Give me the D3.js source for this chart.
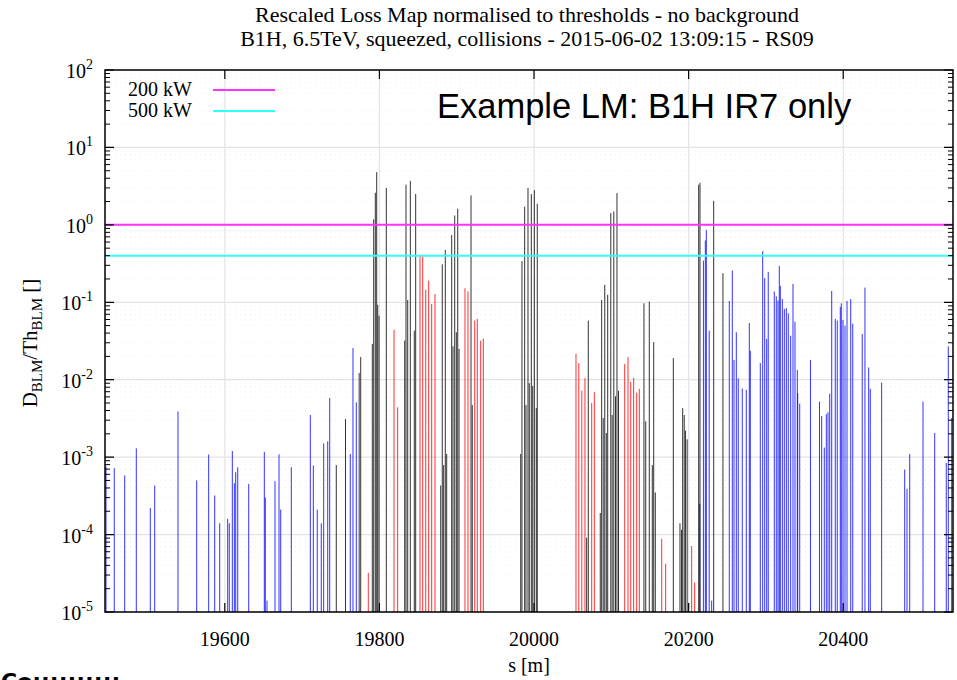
<!DOCTYPE html>
<html>
<head>
<meta charset="utf-8">
<script src="https://cdn.jsdelivr.net/npm/d3@7/dist/d3.min.js"></script>
<style>
  body { margin: 0; background: #fff; }
  text { font-family: "Liberation Serif", "Times New Roman", serif; fill: #000; }
</style>
</head>
<body>
<div id="chart"></div>
<script>
// Data: BLM position s [m] and normalised loss, split by monitor type
var collS = [19744.2, 19756.1, 19773.8, 19775.8, 19790.8, 19792.6, 19794.7, 19796.5, 19797.8, 19799.5, 19808.9,
  19832.7, 19834.4, 19836.6, 19840.0, 19845.1, 19846.9, 19879.3, 19881.3, 19883.1, 19885.2, 19887.0, 19893.5,
  19895.2, 19897.4, 19899.5, 19901.3, 19903.0, 19918.5, 19920.1,
  19982.8, 19984.4, 19987.9, 19989.6, 19992.2, 19993.9, 19996.5, 19998.3, 20000.4, 20002.9, 20004.2,
  20068.1, 20070.2, 20085.7, 20087.5, 20089.5, 20091.5, 20093.5, 20095.3, 20099.3, 20101.1, 20103.2, 20105.4,
  20107.3, 20109.3, 20142.2, 20144.5, 20149.1, 20153.0, 20154.8, 20156.9, 20180.2, 20188.8, 20190.8, 20192.3,
  20194.3, 20196.0, 20198.1, 20213.0, 20214.7, 20232.4, 20244.4];
var collV = [7.9e-4, 3.1e-3, 0.0122, 0.0196, 0.029, 1.18, 2.6, 4.8, 0.093, 0.067, 3.0,
  0.032, 3.3, 0.107, 3.7, 0.043, 2.5, 4.3e-4, 0.31, 7.9e-4, 0.475, 1.1e-3, 0.74,
  0.027, 1.32, 0.041, 1.62, 0.025, 2.4, 4.7e-3,
  1.1e-3, 0.34, 1.72, 4.7e-3, 3.0, 9.0e-3, 2.5, 8.3e-3, 2.8, 4.3e-3, 1.87,
  9.1e-5, 0.058, 1.9e-4, 0.107, 3.2e-3, 0.168, 2.05e-3, 0.125, 1.42, 3.5e-3, 1.49, 6.1e-3,
  2.57, 7.2e-3, 0.097, 2.9e-3, 0.102, 7.9e-4, 0.0306, 3.5e-4, 0.019, 1.4e-4, 1.15e-4, 4.3e-3,
  3.5e-3, 2.2e-3, 1.7e-3, 3.3, 3.5, 2.04, 0.238];

var warmS = [19785.6, 19818.9, 19823.6, 19852.5, 19856.0, 19859.9, 19863.7, 19867.6, 19871.9, 19910.7, 19914.6,
  19923.3, 19926.6, 19931.0, 19934.4,
  20054.3, 20057.9, 20061.8, 20065.9, 20074.6, 20078.0, 20117.3, 20121.6, 20125.1, 20128.9, 20132.8, 20136.2,
  20165.2, 20170.3, 20203.9, 20207.8];
var warmV = [3.2e-5, 0.044, 4.4e-3, 0.40, 0.40, 0.145, 0.19, 0.095, 0.128, 0.152, 0.138,
  0.058, 0.061, 0.032, 0.034,
  0.0216, 0.0164, 7.2e-3, 0.0105, 5.0e-3, 6.9e-3, 0.016, 0.0197, 9.4e-3, 0.0106, 6.8e-3, 7.6e-3,
  8.8e-5, 4.2e-5, 7.1e-5, 2.4e-5];

var coldS = [19446.3, 19457.0, 19470.5, 19485.5, 19503.6, 19509.3, 19539.4, 19563.6, 19579.1, 19586.9, 19593.4,
  19603.7, 19605.8, 19609.7, 19612.3, 19614.1, 19616.7, 19630.9, 19651.1, 19652.4, 19654.6, 19664.9, 19670.1,
  19672.3, 19686.0, 19710.6, 19714.5, 19719.6, 19724.8, 19727.9, 19733.1, 19735.7, 19762.3, 19765.8, 19770.1,
  20214.4, 20219.1, 20221.6, 20222.9, 20226.6, 20229.8, 20252.6, 20256.5, 20258.7, 20261.7, 20264.2, 20269.4,
  20274.6, 20278.5, 20279.8, 20292.7, 20295.8, 20298.4, 20301.0, 20303.0, 20310.8, 20313.4, 20315.6, 20317.3,
  20318.6, 20321.2, 20323.8, 20326.4, 20328.9, 20332.0, 20335.0, 20337.6, 20340.6, 20341.1, 20343.7, 20357.6,
  20369.3, 20372.1, 20375.5, 20378.1, 20380.3, 20382.5, 20385.1, 20389.7, 20392.3, 20396.2, 20397.5, 20399.7,
  20402.3, 20404.9, 20409.7, 20412.3, 20424.6, 20428.1, 20432.9, 20435.0, 20449.7, 20479.5, 20482.5, 20486.0,
  20503.2, 20518.3, 20533.3, 20535.9, 20540.3];
var coldV = [7.5e-4, 7.2e-4, 5.8e-4, 1.3e-3, 2.2e-4, 4.3e-4, 3.9e-3, 5.0e-4, 1.08e-3, 3.2e-4, 1.4e-4,
  1.6e-4, 1.4e-4, 1.2e-3, 4.6e-4, 6.4e-4, 7.4e-4, 4.5e-4, 1.17e-3, 3.0e-4, 1.4e-5, 4.9e-4, 1.09e-3,
  2.1e-4, 7.4e-4, 3.5e-3, 7.8e-4, 2.1e-4, 1.4e-4, 1.5e-3, 1.6e-3, 5.8e-3, 1.1e-3, 0.0256, 5.1e-3,
  2.5e-4, 0.345, 0.63, 0.86, 0.043, 1.4e-5, 0.104, 0.257, 0.018, 0.041, 0.0104, 7.7e-3,
  7.4e-3, 0.054, 0.0236, 0.0164, 0.457, 0.205, 0.0337, 0.247, 0.138, 0.119, 0.105, 0.295,
  0.163, 0.11, 0.082, 0.084, 0.072, 0.037, 0.173, 0.056, 0.0134, 6.7e-3, 4.9e-3, 0.018,
  5.2e-3, 3.4e-3, 1.33e-3, 3.6e-3, 3.8e-3, 6.6e-3, 0.14, 0.061, 0.058, 0.087, 0.097, 0.059,
  0.05, 0.104, 0.11, 0.053, 0.039, 0.155, 0.0144, 7.6e-3, 9.2e-3, 6.9e-4, 3.9e-4, 1.1e-3,
  5.2e-3, 2.05e-3, 8.4e-4, 0.027, 3.2e-3];

var thresholdVals = [1.0, 0.4];
var thresholdNames = ["200 kW", "500 kW"];

var xTicks = [19600, 19800, 20000, 20200, 20400];
var yExps = [-5, -4, -3, -2, -1, 0, 1, 2];

var titleLines = ["Rescaled Loss Map normalised to thresholds - no background",
  "B1H, 6.5TeV, squeezed, collisions - 2015-06-02 13:09:15 - RS09"];

// Layout
var W = 957, H = 680;
var margin = {top: 70, right: 4, bottom: 68, left: 105},
    width = W - margin.left - margin.right,
    height = H - margin.top - margin.bottom;

var svg = d3.select("#chart").append("svg")
  .attr("width", W).attr("height", H);

var x = d3.scaleLinear().domain([19445, 20542]).range([0, width]);
var y = d3.scaleLog().domain([1e-5, 1e2]).range([height, 0]);

var g = svg.append("g").attr("transform", "translate(" + margin.left + "," + margin.top + ")");

// minor grid (dotted, very faint) on y
var minorVals = [];
yExps.slice(0, -1).forEach(function(e) {
  for (var k = 2; k <= 9; k++) minorVals.push(k * Math.pow(10, e));
});
g.selectAll(".ygrid-minor").data(minorVals).enter().append("line")
  .attr("x1", 0).attr("x2", width)
  .attr("y1", function(d) { return y(d); }).attr("y2", function(d) { return y(d); })
  .attr("stroke", "#ececec").attr("stroke-width", 0.8).attr("stroke-dasharray", "1,4");

// major grid
g.selectAll(".ygrid").data(yExps).enter().append("line")
  .attr("x1", 0).attr("x2", width)
  .attr("y1", function(d) { return y(Math.pow(10, d)); }).attr("y2", function(d) { return y(Math.pow(10, d)); })
  .attr("stroke", "#e4e4e4").attr("stroke-width", 1.2);
g.selectAll(".xgrid").data(xTicks).enter().append("line")
  .attr("x1", function(d) { return x(d); }).attr("x2", function(d) { return x(d); })
  .attr("y1", 0).attr("y2", height)
  .attr("stroke", "#e4e4e4").attr("stroke-width", 1.2);

// loss bars
function bars(sArr, vArr, color) {
  var data = sArr.map(function(s, i) { return {s: s, v: vArr[i]}; });
  g.append("g").selectAll("line").data(data).enter().append("line")
    .attr("x1", function(d) { return x(d.s); }).attr("x2", function(d) { return x(d.s); })
    .attr("y1", y(1e-5)).attr("y2", function(d) { return y(d.v); })
    .attr("stroke", color).attr("stroke-width", 1).attr("stroke-opacity", 0.8);
}
bars(coldS, coldV, "#0000ff");
bars(warmS, warmV, "#ff0000");
bars(collS, collV, "#000000");

// threshold lines
var thrColors = ["#ff33ff", "#33ffff"];
g.selectAll(".thr").data(thresholdVals).enter().append("line")
  .attr("x1", 0).attr("x2", width)
  .attr("y1", function(d) { return y(d); }).attr("y2", function(d) { return y(d); })
  .attr("stroke", function(d, i) { return thrColors[i]; }).attr("stroke-width", 2);

// frame
g.append("rect").attr("width", width).attr("height", height)
  .attr("fill", "none").attr("stroke", "#000").attr("stroke-width", 1.5);

// ticks (inward, mirrored)
g.selectAll(".ytick").data(yExps).enter().append("path")
  .attr("d", function(d) { var yy = y(Math.pow(10, d)); return "M0," + yy + "h9M" + width + "," + yy + "h-9"; })
  .attr("stroke", "#000").attr("stroke-width", 1.2);
g.selectAll(".ytick-minor").data(minorVals).enter().append("path")
  .attr("d", function(d) { var yy = y(d); return "M0," + yy + "h5M" + width + "," + yy + "h-5"; })
  .attr("stroke", "#000").attr("stroke-width", 1);
g.selectAll(".xtick").data(xTicks).enter().append("path")
  .attr("d", function(d) { var xx = x(d); return "M" + xx + "," + height + "v-9M" + xx + ",0v9"; })
  .attr("stroke", "#000").attr("stroke-width", 1.2);

// tick labels
var yl = g.selectAll(".ylab").data(yExps).enter().append("text")
  .attr("x", -12).attr("y", function(d) { return y(Math.pow(10, d)) + 8; })
  .attr("text-anchor", "end").style("font-size", "20px");
yl.append("tspan").text("10");
yl.append("tspan").attr("dy", -9).style("font-size", "14px").text(function(d) { return d; });

g.selectAll(".xlab").data(xTicks).enter().append("text")
  .attr("x", function(d) { return x(d); }).attr("y", height + 34)
  .attr("text-anchor", "middle").style("font-size", "20px")
  .text(function(d) { return d; });

// axis titles
svg.append("text").attr("x", margin.left + width / 2).attr("y", 672)
  .attr("text-anchor", "middle").style("font-size", "20px").text("s [m]");

var ylab = svg.append("text")
  .attr("transform", "translate(37," + (margin.top + height / 2 + 2) + ") rotate(-90)")
  .attr("text-anchor", "middle").style("font-size", "21px");
ylab.append("tspan").text("D");
ylab.append("tspan").attr("dy", 5).style("font-size", "15px").text("BLM");
ylab.append("tspan").attr("dy", -5).text("/Th");
ylab.append("tspan").attr("dy", 5).style("font-size", "15px").text("BLM");
ylab.append("tspan").attr("dy", -5).text(" []");

// title
svg.selectAll(".title").data(titleLines).enter().append("text")
  .attr("x", margin.left + width / 2 - 2).attr("y", function(d, i) { return 22 + i * 24; })
  .attr("text-anchor", "middle").style("font-size", "22px")
  .text(function(d) { return d; });

// legend
var leg = g.selectAll(".leg").data(thresholdNames).enter().append("g")
  .attr("transform", function(d, i) { return "translate(0," + (20 + i * 21) + ")"; });
leg.append("text").attr("x", 23).attr("y", 6).style("font-size", "20px").text(function(d) { return d; });
leg.append("line").attr("x1", 108).attr("x2", 170).attr("y1", 0).attr("y2", 0)
  .attr("stroke", function(d, i) { return thrColors[i]; }).attr("stroke-width", 2);

// annotation
svg.append("text").attr("x", 437).attr("y", 118)
  .style("font-family", "'Liberation Sans', Arial, sans-serif").style("font-size", "34.5px")
  .text("Example LM: B1H IR7 only");

// footer text, cut by the bottom edge as in the original
svg.append("text").attr("x", 1).attr("y", 689)
  .style("font-family", "'DejaVu Sans', sans-serif").style("font-weight", "bold").style("font-size", "22px")
  .text("Co::::::::::");
</script>
</body>
</html>
